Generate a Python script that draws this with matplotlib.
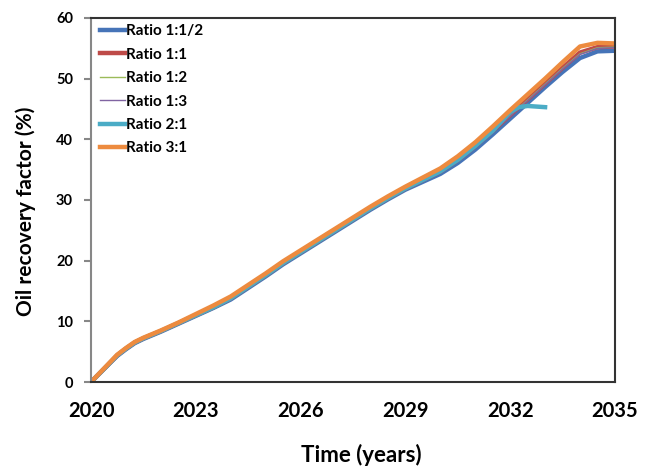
import matplotlib.pyplot as plt

plt.rcParams['font.family'] = ['Lato', 'DejaVu Sans']

years = [2020, 2020.5, 2020.75, 2021, 2021.25, 2021.5, 2022, 2022.5, 2023, 2023.5, 2024, 2024.5,
         2025, 2025.5, 2026, 2026.5, 2027, 2027.5, 2028, 2028.5, 2029, 2029.5, 2030, 2030.5,
         2031, 2031.5, 2032, 2032.5, 2033, 2033.5, 2034, 2034.5, 2035]

rf_1_half = [0, 2.9, 4.3, 5.4, 6.4, 7.1, 8.3, 9.6, 10.9, 12.2, 13.6, 15.5,
             17.4, 19.4, 21.2, 23.0, 24.8, 26.6, 28.4, 30.1, 31.7, 33.0, 34.3, 36.1,
             38.3, 40.8, 43.4, 46.0, 48.6, 51.1, 53.4, 54.5, 54.6]
rf_1_1 = [0, 2.9, 4.4, 5.5, 6.5, 7.2, 8.4, 9.7, 11.0, 12.3, 13.8, 15.7,
          17.6, 19.6, 21.4, 23.2, 25.0, 26.8, 28.6, 30.3, 31.9, 33.3, 34.7, 36.6,
          38.9, 41.4, 44.0, 46.6, 49.2, 51.8, 54.3, 55.2, 55.3]
rf_1_2 = [0, 2.9, 4.4, 5.5, 6.5, 7.2, 8.4, 9.7, 11.0, 12.3, 13.8, 15.7,
          17.6, 19.6, 21.4, 23.2, 25.0, 26.8, 28.6, 30.3, 31.9, 33.3, 34.7, 36.6,
          38.8, 41.3, 43.9, 46.5, 49.1, 51.7, 54.1, 55.1, 55.2]
rf_1_3 = [0, 2.9, 4.4, 5.5, 6.5, 7.2, 8.4, 9.7, 11.0, 12.3, 13.8, 15.7,
          17.6, 19.6, 21.4, 23.2, 25.0, 26.8, 28.6, 30.3, 31.9, 33.3, 34.6, 36.5,
          38.7, 41.2, 43.8, 46.4, 49.0, 51.6, 54.0, 55.0, 55.1]
yrs_2_1 = [2020, 2020.5, 2020.75, 2021, 2021.25, 2021.5, 2022, 2022.5, 2023, 2023.5, 2024, 2024.5,
           2025, 2025.5, 2026, 2026.5, 2027, 2027.5, 2028, 2028.5, 2029, 2029.5, 2030, 2030.5,
           2031, 2031.5, 2032, 2032.25, 2032.5, 2032.75, 2033]
rf_2_1 = [0, 2.9, 4.4, 5.5, 6.5, 7.2, 8.4, 9.7, 11.0, 12.3, 13.8, 15.7,
          17.6, 19.6, 21.4, 23.2, 25.0, 26.8, 28.6, 30.3, 31.9, 33.3, 34.7, 36.6,
          38.9, 41.4, 44.5, 45.3, 45.5, 45.4, 45.3]
rf_3_1 = [0, 3.0, 4.5, 5.6, 6.6, 7.3, 8.5, 9.8, 11.2, 12.6, 14.1, 16.0,
          17.9, 19.9, 21.7, 23.5, 25.3, 27.1, 28.9, 30.6, 32.2, 33.7, 35.2, 37.2,
          39.5, 42.1, 44.8, 47.4, 50.0, 52.7, 55.3, 55.9, 55.8]

labels = ['Ratio 1:1/2', 'Ratio 1:1', 'Ratio 1:2', 'Ratio 1:3', 'Ratio 2:1', 'Ratio 3:1']

fig = plt.figure(figsize=(6.46, 4.67), dpi=100)
ax = fig.add_axes([0.1409, 0.182, 0.811, 0.7795])

ax.plot(years, rf_1_half, color='#4674B8', lw=3.2, label=labels[0])
ax.plot(years, rf_1_1, color='#BE4B48', lw=3.2, label=labels[1])
ax.plot(years, rf_1_2, color='#9BBB59', lw=1.0, label=labels[2])
ax.plot(years, rf_1_3, color='#8064A2', lw=1.0, label=labels[3])
ax.plot(yrs_2_1, rf_2_1, color='#4BACC6', lw=3.2, label=labels[4])
ax.plot(years, rf_3_1, color='#ED8B3F', lw=3.2, label=labels[5])

ax.set_xlim(2020, 2035)
ax.set_ylim(0, 60)
ax.set_xticks([2020, 2023, 2026, 2029, 2032, 2035])
ax.set_yticks(range(0, 61, 10))
for lab in ax.get_xticklabels():
    lab.set_fontweight('bold')
    lab.set_fontsize(14.5)
for lab in ax.get_yticklabels():
    lab.set_fontweight('bold')
    lab.set_fontsize(10.5)
ax.tick_params(axis='x', length=0, pad=14)
ax.tick_params(axis='y', length=5, color='#878787', width=1.5, direction='out', pad=8)
ax.spines['left'].set_color('#878787')
ax.spines['left'].set_linewidth(1.5)
for s in ['top', 'right', 'bottom']:
    ax.spines[s].set_color('#333333')
    ax.spines[s].set_linewidth(1.5)

ax.set_xlabel('Time (years)', fontsize=16, fontweight='bold')
ax.xaxis.set_label_coords(0.515, -0.17)
ax.set_ylabel('Oil recovery factor (%)', fontsize=15, fontweight='bold')
ax.yaxis.set_label_coords(-0.105, 0.47)

leg = ax.legend(loc='upper left', frameon=False, fontsize=11, handlelength=1.6,
                handletextpad=0.1, labelspacing=0.62, borderaxespad=0.0,
                bbox_to_anchor=(0.006, 1.0))
for t in leg.get_texts():
    t.set_fontweight('bold')

fig.savefig('out.png', dpi=100)
